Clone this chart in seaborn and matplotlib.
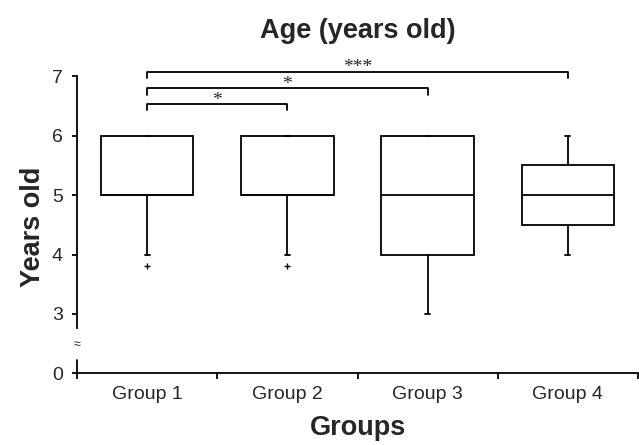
import numpy as np
import pandas as pd
import matplotlib
matplotlib.use('Agg')
import matplotlib.pyplot as plt
import seaborn as sns

# Ages per group (whiskers, quartiles, outliers)
groups = ['Group 1', 'Group 2', 'Group 3', 'Group 4']
group1_ages = [3.8, 4, 5, 5, 5, 5, 5, 6, 6, 6, 6]
group2_ages = [3.8, 4, 5, 5, 5, 5, 5, 6, 6, 6, 6]
group3_ages = [3, 4, 4, 4, 5, 5, 6, 6, 6]
group4_ages = [4, 4, 5, 5, 5, 6, 6]
y_tick_values = [3, 4, 5, 6, 7]

# Significance brackets (from group, to group, stars)
comparisons = [('Group 1', 'Group 2', '*'),
               ('Group 1', 'Group 3', '*'),
               ('Group 1', 'Group 4', '***')]

df = pd.DataFrame({
    'group': (['Group 1'] * len(group1_ages) + ['Group 2'] * len(group2_ages)
              + ['Group 3'] * len(group3_ages) + ['Group 4'] * len(group4_ages)),
    'age': group1_ages + group2_ages + group3_ages + group4_ages,
})

sns.set_style('ticks')
plt.rcParams['font.family'] = ['Liberation Sans', 'DejaVu Sans']

fig = plt.figure(figsize=(6.39, 4.45), dpi=100)
ax = fig.add_axes([0.1205, 0.1611, 0.878, 0.7074])

sns.boxplot(data=df, x='group', y='age', order=groups, ax=ax,
            width=0.66, whis=1.0, color='white', linecolor='black',
            linewidth=1.3, fliersize=5, capwidths=0.035,
            flierprops=dict(marker='+', markeredgecolor='black',
                            markeredgewidth=1.0))

# broken y axis: the "0" sits one unit below 3
zero_pos = 2
ax.set_ylim(zero_pos, 7.3)
ax.set_yticks([zero_pos] + y_tick_values)
ax.set_yticklabels(['0'] + [str(v) for v in y_tick_values], fontsize=14)
ax.spines['left'].set_bounds(2.76, 7)
ax.plot([0, 0], [zero_pos, 2.22], transform=ax.get_yaxis_transform(),
        color='black', lw=1.3, clip_on=False)
ax.text(0, 2.48, '\u2248', transform=ax.get_yaxis_transform(),
        ha='center', va='center', fontsize=9)

# x axis: boundary ticks, labels centred under each box
ax.set_xlim(-0.5, len(groups) - 0.5)
ax.set_xticks(np.arange(len(groups) + 1) - 0.5)
ax.set_xticklabels([])
ax.set_xticks(np.arange(len(groups)), minor=True)
ax.set_xticklabels(groups, minor=True, fontsize=14)
ax.tick_params(axis='x', which='minor', length=0, pad=9)
ax.tick_params(axis='x', which='major', length=4.5, width=1.3, color='black')
ax.tick_params(axis='y', length=3.3, width=1.3, pad=7, color='black')

for side in ['top', 'right']:
    ax.spines[side].set_visible(False)
for side in ['left', 'bottom']:
    ax.spines[side].set_linewidth(1.3)
    ax.spines[side].set_color('black')

# significance brackets
heights = [6.535, 6.80, 7.08]
for (g_from, g_to, stars), h in zip(comparisons, heights):
    x0, x1 = groups.index(g_from), groups.index(g_to)
    ax.plot([x0, x0, x1, x1], [h - 0.11, h, h, h - 0.11], color='black',
            lw=1.3, clip_on=False)
    ax.text((x0 + x1) / 2, h - 0.01, stars, ha='center', va='baseline',
            fontsize=14, family=['Liberation Serif', 'DejaVu Serif'])

ax.set_title('Age (years old)', fontsize=19.5, fontweight='bold', pad=15)
ax.set_xlabel('Groups', fontsize=19.5, fontweight='bold')
ax.set_ylabel('Years old', fontsize=19.5, fontweight='bold')
ax.xaxis.set_label_coords(0.5, -0.134)
ax.yaxis.set_label_coords(-0.056, 0.4657)

fig.savefig('out.png', dpi=100)
